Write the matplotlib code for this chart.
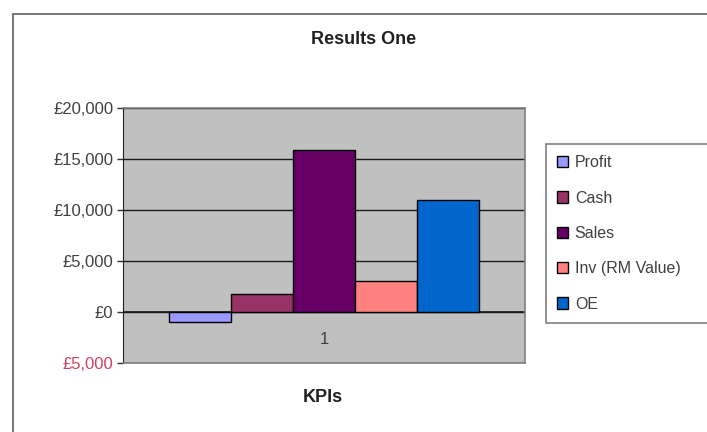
import matplotlib
matplotlib.use("Agg")
import matplotlib.pyplot as plt
from matplotlib.patches import Rectangle
from matplotlib.ticker import FuncFormatter

plt.rcParams['font.family'] = ['Liberation Sans', 'DejaVu Sans']

# data
series = ["Profit", "Cash", "Sales", "Inv (RM Value)", "OE"]
values = [-1000, 1800, 15900, 3000, 11000]
colors = ["#9999FF", "#993366", "#660066", "#FF8080", "#0066CC"]
category = "1"

W, H = 707, 432
fig = plt.figure(figsize=(W / 100, H / 100), dpi=100)
fig.patch.set_facecolor("white")

# outer chart border (runs off the image right/bottom)
fig.patches.append(Rectangle((13 / W, -0.5), 2, 1.5 - 14 / H, transform=fig.transFigure,
                             fill=False, edgecolor="#606060", lw=1.2))

ax = fig.add_axes([123 / W, 1 - 363 / H, 402 / W, 255 / H])
ax.set_facecolor("#C0C0C0")

width = 0.154
n = len(series)
for i, (name, v, c) in enumerate(zip(series, values, colors)):
    x = (i - (n - 1) / 2) * width
    ax.bar(x, v, width=width, color=c, edgecolor="black", lw=1, label=name, zorder=3)

ax.set_xlim(-0.5, 0.5)
ax.set_ylim(-5000, 20000)
ax.set_yticks(range(-5000, 20001, 5000))
ax.set_xticks([])
ax.yaxis.grid(True, color="#1a1a1a", lw=1)
ax.set_axisbelow(True)
ax.axhline(0, color="#1a1a1a", lw=1.2, zorder=2)

ax.yaxis.set_major_formatter(FuncFormatter(lambda v, p: "£{:,.0f}".format(abs(v))))
ax.tick_params(axis="y", length=4, width=1, color="#303030", labelsize=12,
               labelcolor="#404040", pad=3)
for lab, t in zip(ax.get_yticklabels(), ax.get_yticks()):
    if t < 0:
        lab.set_color("#D04060")

for s in ["top", "right", "bottom"]:
    ax.spines[s].set_color("#808080")
    ax.spines[s].set_linewidth(1.2)
ax.spines["left"].set_color("#202020")

ax.annotate(category, xy=(0, 0), xytext=(0, -28), textcoords="offset pixels",
            ha="center", va="center", fontsize=12, color="#404040")

fig.text(364 / W, 1 - 39 / H, "Results One", ha="center", va="center",
         fontsize=13, fontweight="bold", color="#202020")
fig.text(323 / W, 1 - 397 / H, "KPIs", ha="center", va="center",
         fontsize=13, fontweight="bold", color="#202020")

leg = fig.legend(loc="upper left", bbox_to_anchor=(546 / W, 1 - 322 / H, 0.3, 178 / H),
                 mode="expand", fontsize=11.5, frameon=True, fancybox=False,
                 handlelength=0.7, handleheight=0.7, handletextpad=0.4,
                 labelspacing=1.275, borderpad=0.7, borderaxespad=0)
leg.get_frame().set_edgecolor("#606060")
leg.get_frame().set_linewidth(1.2)
for t in leg.get_texts():
    t.set_color("#404040")

fig.savefig("out.png", dpi=100)
